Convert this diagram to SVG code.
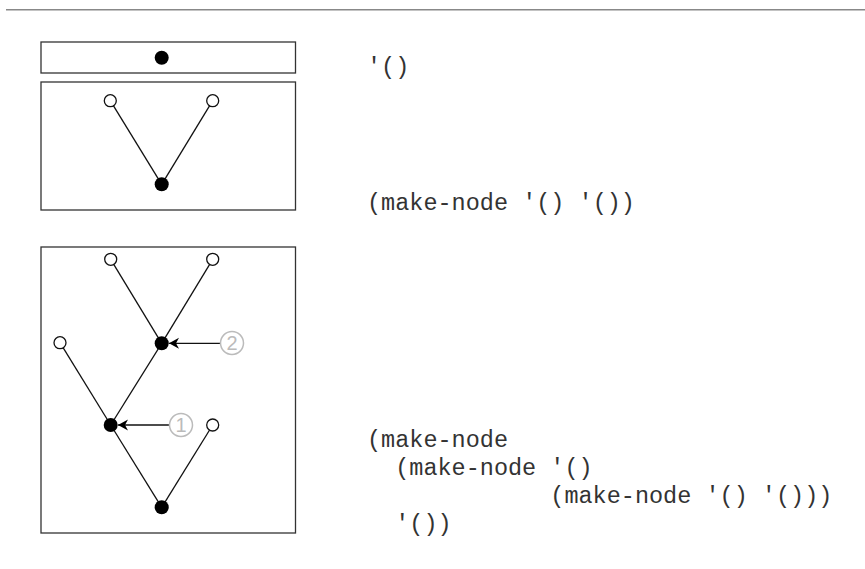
<svg xmlns="http://www.w3.org/2000/svg" width="865" height="569" viewBox="0 0 865 569">
  <style>
    .frame { fill: none; stroke: #333; stroke-width: 1.3; }
    .edge { stroke: #111; stroke-width: 1.3; fill: none; }
    .leaf { fill: #fff; stroke: #111; stroke-width: 1.3; }
    .inner { fill: #000; stroke: none; }
    .code { font-family: "Liberation Mono", "Courier New", monospace; font-size: 23.5px; fill: #333; }
    .callout { fill: #fff; stroke: #bbb; stroke-width: 1.5; }
    .callnum { font-family: "Liberation Sans", Arial, sans-serif; font-size: 20px; fill: #bbb; text-anchor: middle; }
    .pointer { stroke: #111; stroke-width: 1.3; fill: none; marker-end: url(#arrow); }
  </style>
  <defs>
    <marker id="arrow" markerUnits="userSpaceOnUse" markerWidth="11" markerHeight="12" refX="10" refY="6" orient="auto" viewBox="0 0 11 12">
      <path d="M0,0.5 L10,6 L0,11.5 L3,6 z" fill="#000"/>
    </marker>
  </defs>
  <rect width="865" height="569" fill="#fff"/>
  <line x1="6" y1="9.8" x2="865" y2="9.8" stroke="#888" stroke-width="1.6"/>

  <!-- frames -->
  <g id="frames">
    <rect class="frame" x="41" y="42" width="254.5" height="31"/>
    <rect class="frame" x="41" y="82" width="254.5" height="128"/>
    <rect class="frame" x="41" y="247" width="254.5" height="286"/>
  </g>

  <!-- connectors -->
  <g id="connectors">
    <line class="edge" x1="110.3" y1="100.7" x2="161.7" y2="184.3"/>
    <line class="edge" x1="212.7" y1="100.7" x2="161.7" y2="184.3"/>
    <line class="edge" x1="110.7" y1="259.3" x2="161.7" y2="343.3"/>
    <line class="edge" x1="212.7" y1="259.3" x2="161.7" y2="343.3"/>
    <line class="edge" x1="161.7" y1="343.3" x2="110.7" y2="425"/>
    <line class="edge" x1="60" y1="342.7" x2="110.7" y2="425"/>
    <line class="edge" x1="110.7" y1="425" x2="161.7" y2="507.3"/>
    <line class="edge" x1="212.7" y1="425" x2="161.7" y2="507.3"/>
    <line class="pointer" x1="220.5" y1="343.3" x2="169" y2="343.3"/>
    <line class="pointer" x1="169.5" y1="425" x2="118" y2="425"/>
  </g>

  <!-- nodes -->
  <g id="n-empty"><circle class="inner" cx="161.7" cy="57.7" r="7"/></g>
  <g id="n2-left"><circle class="leaf" cx="110.3" cy="100.7" r="6"/></g>
  <g id="n2-right"><circle class="leaf" cx="212.7" cy="100.7" r="6"/></g>
  <g id="n2-root"><circle class="inner" cx="161.7" cy="184.3" r="7"/></g>

  <g id="n3-a"><circle class="leaf" cx="110.7" cy="259.3" r="6"/></g>
  <g id="n3-b"><circle class="leaf" cx="212.7" cy="259.3" r="6"/></g>
  <g id="n3-c"><circle class="inner" cx="161.7" cy="343.3" r="7"/></g>
  <g id="n3-d"><circle class="leaf" cx="60" cy="342.7" r="6"/></g>
  <g id="n3-e"><circle class="inner" cx="110.7" cy="425" r="7"/></g>
  <g id="n3-f"><circle class="leaf" cx="212.7" cy="425" r="6"/></g>
  <g id="n3-root"><circle class="inner" cx="161.7" cy="507.3" r="7"/></g>

  <g id="callout-2">
    <circle class="callout" cx="232" cy="343" r="11.5"/>
    <text class="callnum" x="232" y="350">2</text>
  </g>
  <g id="callout-1">
    <circle class="callout" cx="181" cy="425" r="11.5"/>
    <text class="callnum" x="181" y="432">1</text>
  </g>

  <!-- code -->
  <g id="code">
    <text class="code" x="367" y="74" xml:space="preserve">'()</text>
    <text class="code" x="367" y="210" xml:space="preserve">(make-node '() '())</text>
    <text class="code" x="367" y="447" xml:space="preserve">(make-node</text>
    <text class="code" x="395.2" y="475" xml:space="preserve">(make-node '()</text>
    <text class="code" x="550.3" y="503" xml:space="preserve">(make-node '() '()))</text>
    <text class="code" x="395.2" y="531" xml:space="preserve">'())</text>
  </g>
</svg>
